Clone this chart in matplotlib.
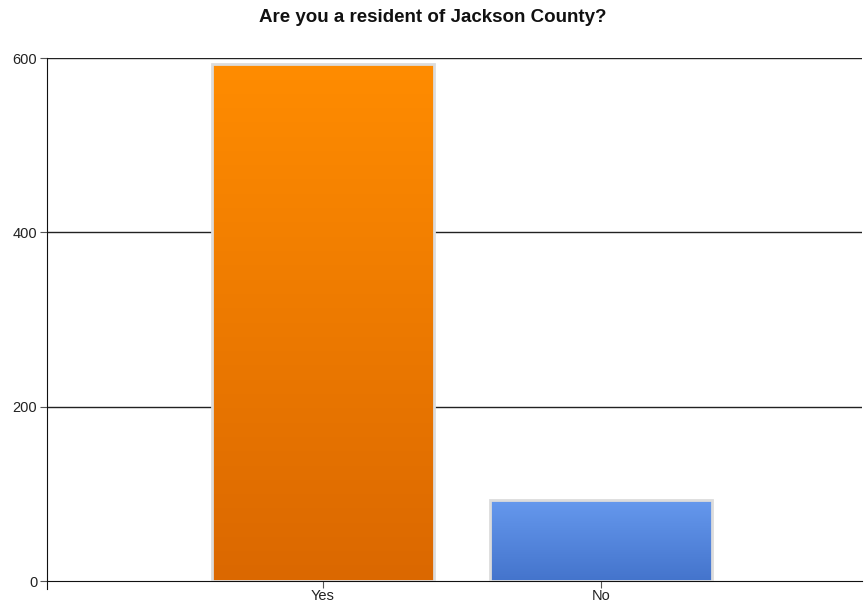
import numpy as np
import matplotlib.pyplot as plt
from matplotlib.colors import LinearSegmentedColormap

categories = ["Yes", "No"]
counts = [593, 93]
top_colors = ["#ff8c00", "#6699ee"]
bottom_colors = ["#db6800", "#4474cc"]
y_ticks = [0, 200, 400, 600]


def run():
    plt.rcParams["font.family"] = ["Liberation Sans", "DejaVu Sans"]
    fig = plt.figure(figsize=(8.65, 6.08), dpi=100)
    ax = fig.add_axes([0.0543, 0.0444, 0.9422, 0.8602])

    x = np.arange(len(categories))

    for y in y_ticks[1:]:
        ax.axhline(y, color="#222222", linewidth=1.0, zorder=1)

    bars = ax.bar(x, counts, width=0.8, color="none", edgecolor="#dcdcdc",
                  linewidth=2, zorder=3)
    grad = np.linspace(0, 1, 256).reshape(-1, 1)
    for bar, c_top, c_bot in zip(bars, top_colors, bottom_colors):
        cmap = LinearSegmentedColormap.from_list("g", [c_bot, c_top])
        x0, y0 = bar.get_x(), bar.get_y()
        w, h = bar.get_width(), bar.get_height()
        im = ax.imshow(grad, cmap=cmap, aspect="auto", origin="lower",
                       extent=[x0, x0 + w, y0, y0 + h], zorder=2)
        im.set_clip_path(bar)
    ax.set_xlim(-0.993, 1.94)
    ax.set_ylim(0, 600)

    for side in ["top", "right"]:
        ax.spines[side].set_visible(False)
    ax.spines["bottom"].set_color("#111111")
    ax.spines["left"].set_color("#111111")
    ax.spines["left"].set_bounds(-9, 600)
    ax.spines["left"].set_zorder(4)

    ax.set_yticks(y_ticks)
    ax.set_xticks(x)
    ax.set_xticklabels(categories)
    ax.tick_params(axis="y", length=5, color="#555555", labelsize=10.5, pad=2,
                   labelcolor="#222222")
    ax.tick_params(axis="x", length=5, color="#555555", labelsize=10.5, pad=1,
                   labelcolor="#222222")

    fig.text(0.5, 0.971, "Are you a resident of Jackson County?", ha="center",
             va="center", fontsize=13.5, fontweight="bold", color="#111111")

    fig.savefig("out.png", dpi=100)


if __name__ == "__main__":
    run()
